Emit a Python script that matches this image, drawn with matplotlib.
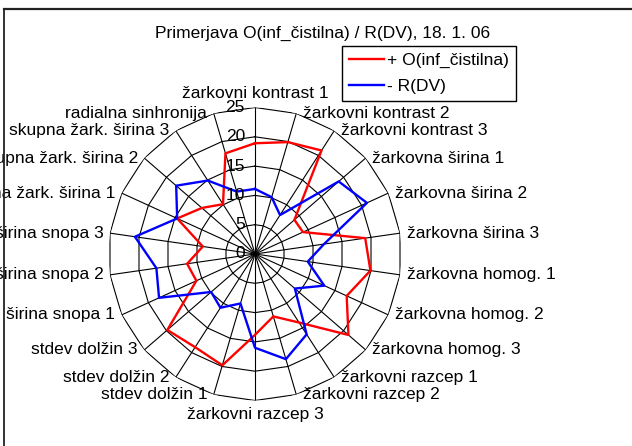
import matplotlib
matplotlib.use("Agg")
import matplotlib.pyplot as plt
import numpy as np
from matplotlib.lines import Line2D
from matplotlib.transforms import offset_copy

plt.rcParams['font.family'] = ['Liberation Sans', 'DejaVu Sans']
plt.rcParams['font.size'] = 12.5

title = "Primerjava O(inf_čistilna) / R(DV), 18. 1. 06"

categories = ["žarkovni kontrast 1", "žarkovni kontrast 2", "žarkovni kontrast 3",
              "žarkovna širina 1", "žarkovna širina 2", "žarkovna širina 3",
              "žarkovna homog. 1", "žarkovna homog. 2", "žarkovna homog. 3",
              "žarkovni razcep 1", "žarkovni razcep 2", "žarkovni razcep 3",
              "stdev dolžin 1", "stdev dolžin 2", "stdev dolžin 3",
              "širina snopa 1", "širina snopa 2", "širina snopa 3",
              "skupna žark. širina 1", "skupna žark. širina 2", "skupna žark. širina 3",
              "radialna sinhronija"]

o_values = [18.9, 19.9, 21.0, 8.9, 9.0, 19.0, 19.9, 17.2, 21.1, 13.9, 11.1,
            13.8, 19.8, 18.9, 19.8, 11.0, 11.7, 9.0, 14.6, 12.0, 10.1, 17.9]
r_values = [11.1, 10.1, 7.9, 18.9, 21.0, 11.9, 9.1, 13.0, 9.0, 16.3, 18.7,
            16.0, 8.8, 10.9, 9.9, 18.0, 17.0, 20.7, 14.6, 17.8, 14.9, 11.1]

ring_ticks = [0, 5, 10, 15, 20, 25]
series_names = ["+ O(inf_čistilna)", "- R(DV)"]

W, H = 632, 446
fig = plt.figure(figsize=(W / 100, H / 100), dpi=100)

# radar centre and radius in pixels
cx, cy, R = 255, 254, 146.5
ax = fig.add_axes([(cx - R) / W, (H - cy - R) / H, 2 * R / W, 2 * R / H],
                  projection='polar')
ax.set_theta_zero_location('N')
ax.set_theta_direction(-1)
ax.set_ylim(0, 25)
ax.grid(False)
ax.set_xticks([])
ax.set_yticks([])
ax.spines['polar'].set_visible(False)
ax.patch.set_alpha(0)

n = len(categories)
theta = np.arange(n) * 2 * np.pi / n
closed = np.append(theta, theta[0])

# polygon rings and spokes
for v in ring_ticks[1:]:
    ax.plot(closed, [v] * (n + 1), color='black', lw=0.8, zorder=1)
for t in theta:
    ax.plot([t, t], [0, 25], color='black', lw=0.8, zorder=1)

l1, = ax.plot(closed, o_values + o_values[:1], color='#ff0000', lw=1.7, zorder=3)
l2, = ax.plot(closed, r_values + r_values[:1], color='#0000ff', lw=1.7, zorder=3)

# value labels along the vertical axis
tick_tr = offset_copy(ax.transData, x=-10, y=0, units='dots')
for v in ring_ticks:
    ax.text(0, v, str(v), transform=tick_tr, ha='right', va='center', clip_on=False)

# category labels
for t, name in zip(theta, categories):
    s = np.sin(t)
    if abs(s) < 1e-6:
        if np.cos(t) > 0:
            tr = offset_copy(ax.transData, x=0, y=6, units='dots')
            ha, va = 'center', 'bottom'
        else:
            tr = offset_copy(ax.transData, x=0, y=-7, units='dots')
            ha, va = 'center', 'top'
    elif s > 0:
        tr = offset_copy(ax.transData, x=6.5, y=0, units='dots')
        ha, va = 'left', 'center'
    else:
        tr = offset_copy(ax.transData, x=-6.5, y=0, units='dots')
        ha, va = 'right', 'center'
    ax.text(t, 25, name, transform=tr, ha=ha, va=va, clip_on=False)

fig.text(323 / W, 1 - 33 / H, title, ha='center', va='center')

fig.legend([l1, l2], series_names, loc='upper left',
           bbox_to_anchor=(342 / W, 1 - 45.5 / H), borderaxespad=0,
           fancybox=False, framealpha=1, edgecolor='black',
           handlelength=2.0, handletextpad=0.2, labelspacing=0.65,
           borderpad=0.4)

# chart area border (only top and left edges fall inside the picture)
fig.add_artist(Line2D([4 / W, 4 / W], [0, 1 - 8.7 / H], transform=fig.transFigure,
                      color='#222222', lw=1.3))
fig.add_artist(Line2D([4 / W, 1], [1 - 8.7 / H, 1 - 8.7 / H], transform=fig.transFigure,
                      color='#222222', lw=1.6))

fig.savefig("out.png", dpi=100)
